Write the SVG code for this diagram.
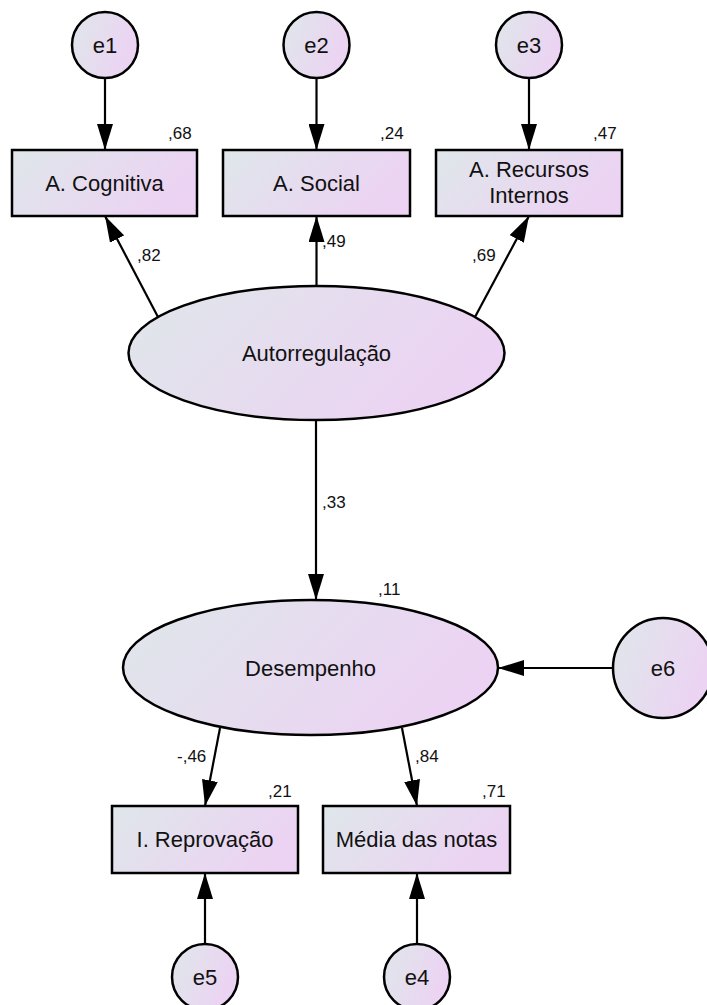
<svg xmlns="http://www.w3.org/2000/svg" width="707" height="1005" viewBox="0 0 707 1005">
<defs>
<linearGradient id="g" x1="0" y1="0" x2="1" y2="0.35">
<stop offset="0" stop-color="#dfe7ea"/>
<stop offset="1" stop-color="#ecd3f3"/>
</linearGradient>
<marker id="arr" markerUnits="userSpaceOnUse" markerWidth="26" markerHeight="16" refX="26" refY="8" orient="auto">
<path d="M0,0 L26,8 L0,16 z" fill="#000"/>
</marker>
</defs>
<style>
.n{fill:url(#g);stroke:#000;stroke-width:2.5}
.t{font-family:"Liberation Sans",Arial,sans-serif;font-size:22px;fill:#111;text-anchor:middle}
.l{font-family:"Liberation Sans",Arial,sans-serif;font-size:17px;fill:#111}
.c line{stroke:#000;stroke-width:2.2;marker-end:url(#arr)}
</style>
<rect width="707" height="1005" fill="#fff"/>
<g class="c" id="connectors">
<line x1="105" y1="78" x2="105" y2="150"/>
<line x1="316.5" y1="78" x2="316.5" y2="150"/>
<line x1="529" y1="78" x2="529" y2="150"/>
<line x1="158" y1="317" x2="105" y2="216"/>
<line x1="316.5" y1="286" x2="316.5" y2="216"/>
<line x1="475" y1="317" x2="529" y2="216"/>
<line x1="316" y1="420" x2="316" y2="600"/>
<line x1="613" y1="668" x2="498" y2="668"/>
<line x1="220" y1="728" x2="205" y2="806"/>
<line x1="402" y1="728" x2="417" y2="806"/>
<line x1="205" y1="944" x2="205" y2="873"/>
<line x1="417" y1="944" x2="417" y2="873"/>
</g>
<g id="e1"><circle class="n" cx="105" cy="45" r="33"/><text class="t" x="105" y="53">e1</text></g>
<g id="e2"><circle class="n" cx="316.5" cy="45" r="33"/><text class="t" x="316.5" y="53">e2</text></g>
<g id="e3"><circle class="n" cx="529" cy="45" r="33"/><text class="t" x="529" y="53">e3</text></g>
<g id="cognitiva"><rect class="n" x="12" y="150" width="185" height="66"/><text class="t" x="104.5" y="191">A. Cognitiva</text></g>
<g id="social"><rect class="n" x="223" y="150" width="187" height="66"/><text class="t" x="316.5" y="191">A. Social</text></g>
<g id="recursos"><rect class="n" x="436" y="150" width="186" height="66"/><text class="t" x="529" y="177">A. Recursos</text><text class="t" x="529" y="203">Internos</text></g>
<g id="autorregulacao"><ellipse class="n" cx="316.5" cy="353" rx="188" ry="67"/><text class="t" x="316.5" y="361">Autorregulação</text></g>
<g id="desempenho"><ellipse class="n" cx="310.5" cy="667.5" rx="187.5" ry="67.5"/><text class="t" x="310.5" y="676">Desempenho</text></g>
<g id="e6"><circle class="n" cx="663" cy="668" r="50"/><text class="t" x="663" y="676">e6</text></g>
<g id="reprovacao"><rect class="n" x="112" y="806" width="186" height="67"/><text class="t" x="205" y="847">I. Reprovação</text></g>
<g id="media"><rect class="n" x="323" y="806" width="187" height="67"/><text class="t" x="416.5" y="847">Média das notas</text></g>
<g id="e5"><circle class="n" cx="205" cy="977" r="33"/><text class="t" x="205" y="985">e5</text></g>
<g id="e4"><circle class="n" cx="417" cy="977" r="33"/><text class="t" x="417" y="985">e4</text></g>
<g id="labels">
<text class="l" x="168" y="139">,68</text>
<text class="l" x="380" y="139">,24</text>
<text class="l" x="593" y="139">,47</text>
<text class="l" x="137" y="261">,82</text>
<text class="l" x="322" y="247">,49</text>
<text class="l" x="472" y="261">,69</text>
<text class="l" x="322" y="508">,33</text>
<text class="l" x="378" y="595">,11</text>
<text class="l" x="177" y="762">-,46</text>
<text class="l" x="415" y="762">,84</text>
<text class="l" x="268" y="797">,21</text>
<text class="l" x="482" y="797">,71</text>
</g>
</svg>
